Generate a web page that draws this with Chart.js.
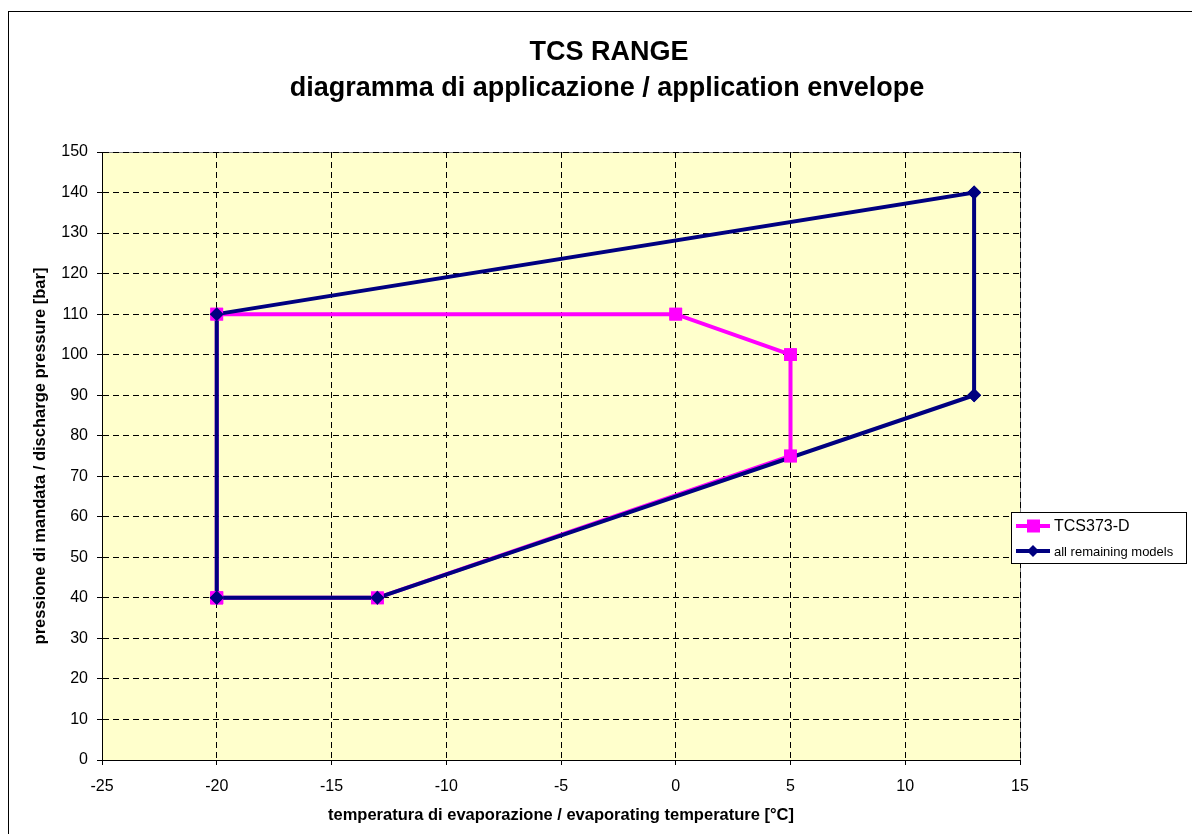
<!DOCTYPE html>
<html lang="en">
  <head>
    <meta charset="utf-8" />
    <script src="https://cdn.jsdelivr.net/npm/chart.js@4.4.0/dist/chart.umd.min.js"></script>
    <title>TCS RANGE</title>
    <style>
      body { margin: 0; background: #fff; }
    </style>
  </head>
  <body>
    <canvas id="chart" width="1192" height="834"></canvas>
    <script>
      const tcsTemp = [-20, -20, 0, 5, 5, -13, -20];
      const tcsPress = [40, 110, 110, 100, 75, 40, 40];
      const allTemp = [-20, -20, 13, 13, -13, -20];
      const allPress = [40, 110, 140, 90, 40, 40];
      const seriesNames = ['TCS373-D', 'all remaining models'];
      const titleLines = ['TCS RANGE', 'diagramma di applicazione / application envelope'];
      const xTitle = 'temperatura di evaporazione / evaporating temperature [°C]';
      const yTitle = 'pressione di mandata / discharge pressure [bar]';

      const FONT = 'Arial, "Liberation Sans", sans-serif';
      const PINK = '#ff00ff';
      const NAVY = '#000080';

      function toPoints(xs, ys) {
        return xs.map((x, i) => ({ x: x, y: ys[i] }));
      }

      const frame = {
        id: 'frame',
        beforeDraw(chart) {
          const c = chart.ctx, a = chart.chartArea;
          c.save();
          c.fillStyle = '#ffffcc';
          c.fillRect(a.left, a.top, a.right - a.left, a.bottom - a.top);
          c.strokeStyle = '#808080';
          c.lineWidth = 1;
          c.strokeRect(a.left + 0.5, a.top + 0.5, a.right - a.left, a.bottom - a.top);
          c.restore();
        },
        // excel style: all lines first, then the markers of every series on top
        afterDatasetsDraw(chart) {
          const c = chart.ctx;
          c.save();
          [0, 1].forEach(i => {
            chart.getDatasetMeta(i).data.forEach(p => p.draw(c, chart.chartArea));
          });
          c.restore();
        },
        afterDraw(chart) {
          const c = chart.ctx, a = chart.chartArea;
          c.save();
          c.strokeStyle = '#000';
          c.lineWidth = 1;
          c.strokeRect(8.5, 11.5, 1400, 1000);

          // titles
          c.fillStyle = '#000';
          c.textAlign = 'center';
          c.textBaseline = 'alphabetic';
          c.font = 'bold 27px ' + FONT;
          c.fillText(titleLines[0], 609, 60);
          c.fillText(titleLines[1], 607, 96);

          c.font = 'bold 16.5px ' + FONT;
          c.textBaseline = 'middle';
          c.fillText(xTitle, (a.left + a.right) / 2, 815);
          c.save();
          c.translate(40, (a.top + a.bottom) / 2);
          c.rotate(-Math.PI / 2);
          c.fillText(yTitle, 0, 0);
          c.restore();

          // legend
          c.textAlign = 'left';
          c.fillStyle = '#fff';
          c.fillRect(1011, 512, 175, 51);
          c.strokeRect(1011.5, 512.5, 175, 51);
          const rows = [
            { y: 526, color: PINK, size: 16 },
            { y: 551, color: NAVY, size: 13 }
          ];
          rows.forEach((r, i) => {
            c.strokeStyle = r.color;
            c.lineWidth = 4;
            c.beginPath();
            c.moveTo(1016, r.y);
            c.lineTo(1050, r.y);
            c.stroke();
            c.fillStyle = r.color;
            if (i === 0) {
              c.fillRect(1027, r.y - 6.5, 13, 13);
            } else {
              c.beginPath();
              c.moveTo(1033, r.y - 6);
              c.lineTo(1039, r.y);
              c.lineTo(1033, r.y + 6);
              c.lineTo(1027, r.y);
              c.closePath();
              c.fill();
            }
            c.fillStyle = '#000';
            c.font = r.size + 'px ' + FONT;
            c.textBaseline = 'middle';
            c.fillText(seriesNames[i], 1054, r.y + 1);
          });
          c.restore();
        }
      };

      new Chart(document.getElementById('chart').getContext('2d'), {
        type: 'scatter',
        data: {
          datasets: [
            {
              label: seriesNames[0],
              data: toPoints(tcsTemp, tcsPress),
              showLine: true,
              borderColor: PINK,
              backgroundColor: PINK,
              borderWidth: 4,
              pointStyle: 'rect',
              pointRadius: 9,
              pointBorderWidth: 0,
              order: 2
            },
            {
              label: seriesNames[1],
              data: toPoints(allTemp, allPress),
              showLine: true,
              borderColor: NAVY,
              backgroundColor: NAVY,
              borderWidth: 4,
              pointStyle: 'rectRot',
              pointRadius: 7,
              pointBorderWidth: 0,
              order: 1
            }
          ]
        },
        options: {
          responsive: false,
          animation: false,
          layout: { padding: { left: 0, right: 172, top: 152, bottom: 0 } },
          plugins: {
            legend: { display: false },
            tooltip: { enabled: false },
            title: { display: false }
          },
          scales: {
            x: {
              type: 'linear',
              min: -25,
              max: 15,
              ticks: { stepSize: 5, color: '#000', font: { family: FONT, size: 16 }, padding: 12 },
              grid: { color: '#000', tickLength: 5, tickColor: '#000' },
              border: { display: true, color: '#000', width: 1, dash: [6, 4] },
              afterFit(scale) { scale.height = 74; }
            },
            y: {
              type: 'linear',
              min: 0,
              max: 150,
              ticks: { stepSize: 10, color: '#000', font: { family: FONT, size: 16 }, padding: 9 },
              grid: { color: '#000', tickLength: 5, tickColor: '#000' },
              border: { display: true, color: '#000', width: 1, dash: [6, 4] },
              afterFit(scale) { scale.width = 102; }
            }
          }
        },
        plugins: [frame]
      });
    </script>
  </body>
</html>
